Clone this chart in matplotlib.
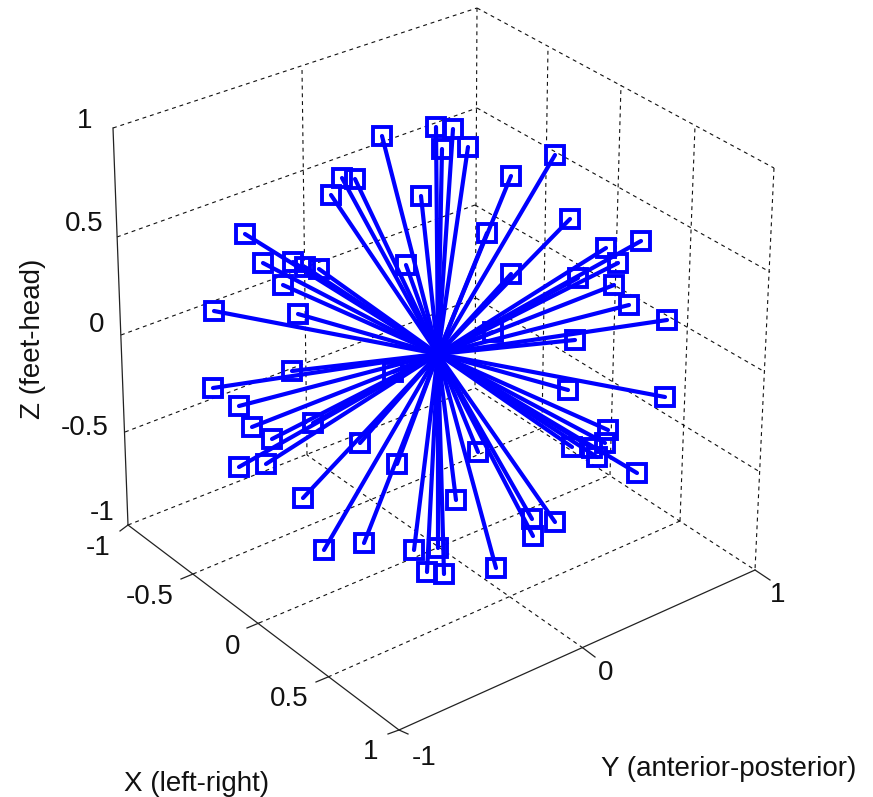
import matplotlib
matplotlib.use('Agg')
import matplotlib.pyplot as plt

plt.rcParams['font.family'] = ['Liberation Sans', 'DejaVu Sans']

center = (438, 354)
tip_x = [382, 436, 453, 442, 468, 555, 511, 342, 355, 331, 421, 570, 487, 245, 606, 641, 618,
         263, 293, 305, 319, 406, 511, 578, 614, 283, 629, 214, 298, 667, 575, 493,
         292, 393, 213, 239, 252, 272, 313, 239, 266, 360, 397, 303, 324, 364, 414, 427, 438, 444,
         568, 665, 608, 605, 572, 592, 597, 637, 478, 456, 532, 555, 533, 496]
tip_y = [136, 127, 129, 149, 147, 155, 176, 178, 179, 195, 196, 219, 233, 234, 248, 241, 263,
         263, 262, 267, 269, 265, 274, 278, 285, 285, 305, 311, 314, 320, 340, 332,
         371, 372, 388, 406, 427, 439, 423, 467, 464, 443, 464, 498, 550, 543, 550, 572, 548, 574,
         390, 397, 430, 443, 447, 448, 457, 473, 452, 500, 519, 522, 536, 568]

# box corners
left_bot = (128, 525)
left_top = (113, 128)
front_bot = (399, 730)
right_bot = (755, 570)
right_top = (774, 168)
back_bot = (475, 388)
back_top = (477, 8)

# grid lines (start, end)
x_floor_a = [(193, 574), (259, 623), (328, 677)]
x_floor_b = [(542, 428), (610, 475), (680, 521)]
x_top = [(548, 47), (621, 85), (695, 126)]
y_tick_floor = (583, 648)
y_wall = (307, 455)
y_wall_top = (302, 68)
z_left = [(117, 237), (121, 335), (125, 432)]
z_back = [(477, 108), (475, 205), (476, 298)]
z_right = [(770, 272), (765, 372), (760, 472)]

# short tick stubs
x_tick_ends = [(181, 579), (247, 628), (316, 682), (388, 734), (120, 531)]
x_tick_starts = x_floor_a + [front_bot, left_bot]
y_tick_starts = [front_bot, y_tick_floor, right_bot]
y_tick_ends = [(408, 734), (595, 657), (770, 580)]

ticks_x = ['-1', '-0.5', '0', '0.5', '1']
ticks_x_pos = [(98, 548), (150, 597), (233, 647), (289, 699), (371, 752)]
ticks_y = ['-1', '0', '1']
ticks_y_pos = [(424, 758), (606, 673), (778, 595)]
ticks_z = ['-1', '-0.5', '0', '0.5', '1']
ticks_z_pos = [(102, 513), (85, 428), (97, 325), (84, 224), (85, 121)]


def seg(ax, a, b, **kw):
    ax.plot([a[0], b[0]], [a[1], b[1]], **kw)


fig = plt.figure(figsize=(8.73, 7.97), dpi=100)
ax = fig.add_axes([0, 0, 1, 1])
ax.set_xlim(0, 873)
ax.set_ylim(797, 0)
ax.axis('off')

dash = dict(color='#111111', lw=0.8, ls=(0, (3.5, 3.5)), zorder=1)
solid = dict(color='#222222', lw=0.9, zorder=1)

# back walls and floor
seg(ax, left_top, back_top, **dash)
seg(ax, back_top, right_top, **dash)
seg(ax, back_top, back_bot, **dash)
seg(ax, left_bot, back_bot, **dash)
seg(ax, back_bot, right_bot, **dash)
seg(ax, right_top, right_bot, **dash)
for a, b, c in zip(x_floor_a, x_floor_b, x_top):
    seg(ax, a, b, **dash)
    seg(ax, b, c, **dash)
seg(ax, y_tick_floor, y_wall, **dash)
seg(ax, y_wall, y_wall_top, **dash)
for a, b, c in zip(z_left, z_back, z_right):
    seg(ax, a, b, **dash)
    seg(ax, b, c, **dash)

# solid axes
seg(ax, left_bot, left_top, **solid)
seg(ax, left_bot, front_bot, **solid)
seg(ax, front_bot, right_bot, **solid)
for a, b in zip(x_tick_starts, x_tick_ends):
    seg(ax, a, b, **solid)
for a, b in zip(y_tick_starts, y_tick_ends):
    seg(ax, a, b, **solid)

for tx, ty in zip(tip_x, tip_y):
    ax.plot([center[0], tx], [center[1], ty], color='#0000ff', lw=3.0, zorder=3,
            solid_capstyle='round')
ax.plot(tip_x, tip_y, ls='none', marker='s', ms=12.5, mew=2.8, mec='#0000ff', mfc='none', zorder=4)

for labs, pos in [(ticks_x, ticks_x_pos), (ticks_y, ticks_y_pos), (ticks_z, ticks_z_pos)]:
    for s, p in zip(labs, pos):
        ax.text(p[0], p[1], s, fontsize=20, ha='center', va='center', color='#111111')

ax.text(197, 784, 'X (left-right)', fontsize=20, ha='center', va='center', color='#111111')
ax.text(729, 769, 'Y (anterior-posterior)', fontsize=20, ha='center', va='center', color='#111111')
ax.text(33, 339, 'Z (feet-head)', fontsize=20, rotation=90, ha='center', va='center', color='#111111')

fig.savefig('out.png', dpi=100)
